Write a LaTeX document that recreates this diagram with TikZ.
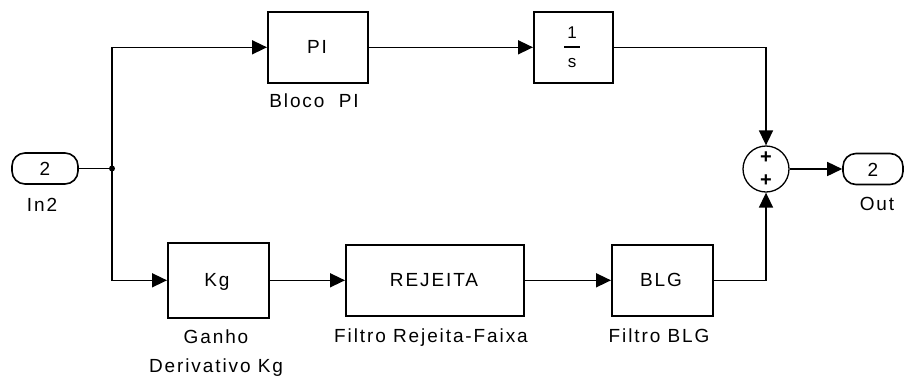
\documentclass[tikz,border=0pt]{standalone}
\usepackage{fontspec}
\setmainfont{Liberation Sans}[LetterSpace=10]
\usetikzlibrary{arrows.meta}
\begin{document}
\begin{tikzpicture}[x=1pt,y=-1pt,
  font=\fontsize{19pt}{21pt}\selectfont,
  blk/.style={draw,line width=1.6pt,inner sep=0pt,anchor=north west},
  port/.style={draw,line width=1.6pt,rounded corners=13pt,inner sep=0pt,minimum width=66pt,minimum height=31pt},
  wire/.style={line width=1.6pt},
  arr/.style={wire,-{Triangle[length=15pt,width=14pt]}},
  lbl/.style={inner sep=0pt,anchor=base}]
\useasboundingbox (0,0) rectangle (905,376);
% ports
\node[port] (in) at (45,168.5) {};
\node[lbl] (inn) at (45,175) {2};
\node[lbl] (inl) at (42,211) {In2};
\node[port,minimum width=60pt] (out) at (873,169) {};
\node[lbl] (outn) at (873,176) {2};
\node[lbl] (outl) at (877,210) {Out};
% blocks
\node[blk,minimum width=100pt,minimum height=71pt] (pi) at (267,11) {};
\node[lbl] (pit) at (317,53) {PI};
\node[lbl] (pil) at (314,107) {Bloco\ \ PI};
\node[blk,minimum width=79pt,minimum height=71pt] (int) at (533,11) {};
\node[lbl,font=\fontsize{17pt}{19pt}\selectfont] (one) at (572,38) {1};
\node[lbl,font=\fontsize{17pt}{19pt}\selectfont] (ess) at (572,67) {s};
\draw[line width=1.4pt] (564,47) -- (580,47);
\node[blk,minimum width=101pt,minimum height=75pt] (kg) at (167,242) {};
\node[lbl] (kgt) at (217,286) {Kg};
\node[lbl] (kgl1) at (216,343) {Ganho};
\node[lbl] (kgl2) at (216,372) {Derivativo Kg};
\node[blk,minimum width=178pt,minimum height=71pt] (rej) at (345,244) {};
\node[lbl] (rejt) at (434,286) {REJEITA};
\node[lbl] (rejl) at (431,342) {Filtro Rejeita-Faixa};
\node[blk,minimum width=101pt,minimum height=71pt] (blg) at (611,244) {};
\node[lbl] (blgt) at (661,286) {BLG};
\node[lbl] (blgl) at (659,342) {Filtro BLG};
% sum
\node[draw,circle,line width=1.3pt,minimum size=46pt,inner sep=0pt] (sum) at (766,169) {};
\node[inner sep=0pt,font=\fontsize{20pt}{20pt}\selectfont\bfseries] (p1) at (766,157.5) {+};
\node[inner sep=0pt,font=\fontsize{20pt}{20pt}\selectfont\bfseries] (p2) at (766,180.5) {+};
% wires
\coordinate (j) at (112,168.5);
\draw[wire] (in.east) -- (j);
\fill (j) circle (3pt);
\draw[arr] (j) |- (pi.west);
\draw[arr] (j) |- (kg.west);
\draw[arr] (pi.east) -- (int.west);
\draw[arr] (int.east) -| (sum.north);
\draw[arr] (kg.east) -- (rej.west);
\draw[arr] (rej.east) -- (blg.west);
\draw[arr] (blg.east) -| (sum.south);
\draw[arr] (sum.east) -- (out.west);
\end{tikzpicture}
\end{document}
